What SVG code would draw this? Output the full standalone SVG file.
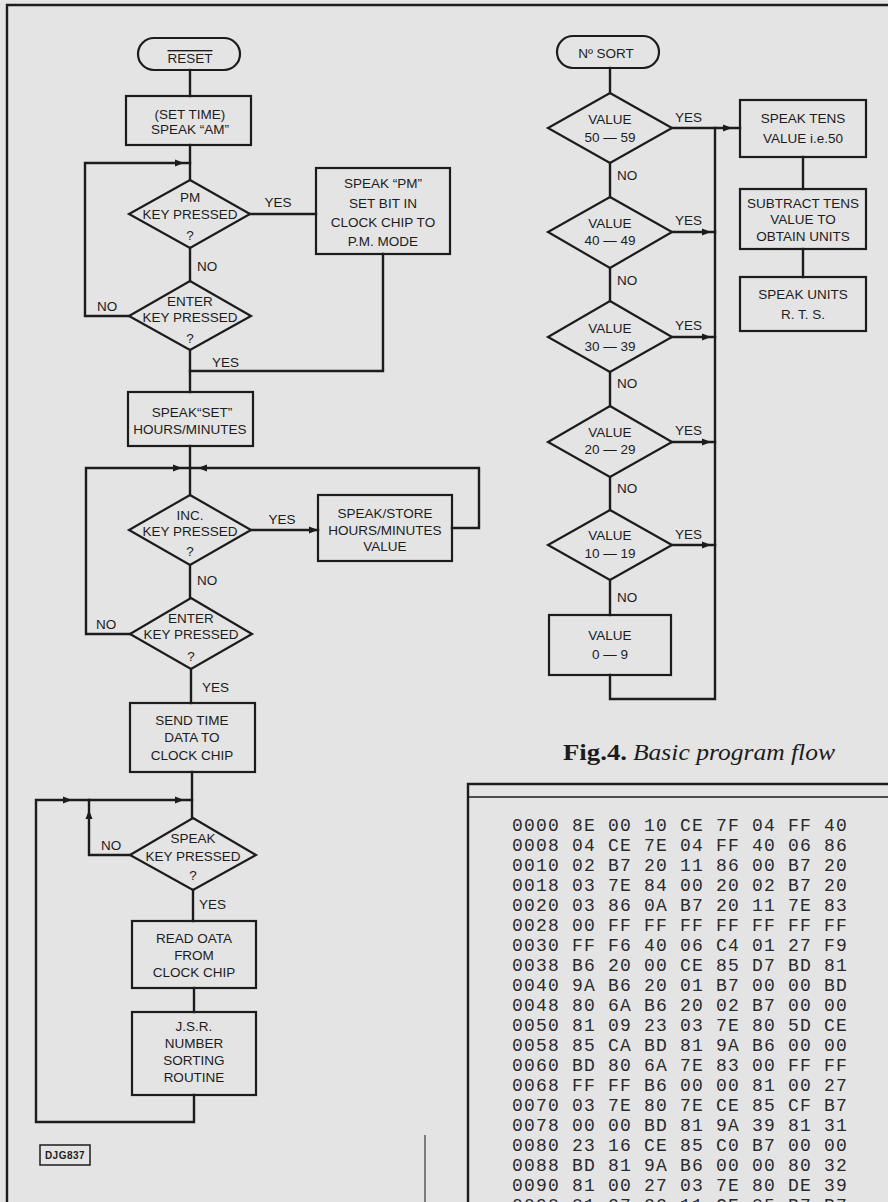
<svg xmlns="http://www.w3.org/2000/svg" xmlns:xlink="http://www.w3.org/1999/xlink" width="888" height="1202" viewBox="0 0 888 1202">
<style>
.ln{fill:none;stroke:#1c1c1c;stroke-width:2.4;stroke-linejoin:miter;stroke-linecap:square}
.bx{fill:none;stroke:#1c1c1c;stroke-width:2.2}
.t{font-family:"Liberation Sans",Arial,sans-serif;font-size:13.5px;fill:#1c1c1c;text-anchor:middle}
.s{font-family:"Liberation Sans",Arial,sans-serif;font-size:13.5px;fill:#1c1c1c;text-anchor:start}
.hex{font-family:"Liberation Mono","Courier New",monospace;font-size:18px;letter-spacing:1.2px;fill:#2a2a2a}
.ah{fill:#1c1c1c}
</style>
<defs>
<path id="ah" class="ah" d="M0,0 L-9,-3.5 L-9,3.5 Z"/>
</defs>
<rect x="0" y="0" width="888" height="1202" fill="#e4e4e4"/>
<g id="frame">
<path class="ln" d="M7,1202 V5 H888"/>
<path class="ln" d="M468,1202 V784 H888"/>
<path d="M468,797 H888" stroke="#1c1c1c" stroke-width="1.6"/>
<path d="M425,1135 V1202" stroke="#3a3a3a" stroke-width="1.2"/>
</g>
<g id="connectors">
<path class="ln" d="M190,70 V96"/>
<path class="ln" d="M190,145 V180"/>
<path class="ln" d="M190,248 V281"/>
<path class="ln" d="M190,350 V392"/>
<path class="ln" d="M250,214 H316"/>
<path class="ln" d="M383,254 V371 H190"/>
<path class="ln" d="M129,316 H85 V163 H190"/>
<use xlink:href="#ah" transform="translate(184,163)"/>
<path class="ln" d="M190,446 V495"/>
<path class="ln" d="M130,634 H86 V468 H190"/>
<use xlink:href="#ah" transform="translate(182,468)"/>
<path class="ln" d="M251,530 H318"/>
<use xlink:href="#ah" transform="translate(318,530)"/>
<path class="ln" d="M452,528 H479 V468 H190"/>
<use xlink:href="#ah" transform="translate(198,468) rotate(180)"/>
<path class="ln" d="M190,565 V598"/>
<path class="ln" d="M191,669 V703"/>
<path class="ln" d="M192,772 V818"/>
<path class="ln" d="M130,855 H89 V800"/>
<use xlink:href="#ah" transform="translate(89,810) rotate(-90)"/>
<path class="ln" d="M193,890 V921"/>
<path class="ln" d="M194,988 V1012"/>
<path class="ln" d="M194,1095 V1122 H36 V800 H192"/>
<use xlink:href="#ah" transform="translate(72,800)"/>
<use xlink:href="#ah" transform="translate(184,800)"/>
<path class="ln" d="M610,68 V93"/>
<path class="ln" d="M610,163 V197"/>
<path class="ln" d="M610,268 V301"/>
<path class="ln" d="M610,372 V406"/>
<path class="ln" d="M610,477 V510"/>
<path class="ln" d="M610,580 V615"/>
<path class="ln" d="M672,128 H740"/>
<use xlink:href="#ah" transform="translate(732,128)"/>
<path class="ln" d="M672,232 H715"/>
<use xlink:href="#ah" transform="translate(711,232)"/>
<path class="ln" d="M672,337 H715"/>
<use xlink:href="#ah" transform="translate(711,337)"/>
<path class="ln" d="M672,442 H715"/>
<use xlink:href="#ah" transform="translate(711,442)"/>
<path class="ln" d="M672,545 H715"/>
<use xlink:href="#ah" transform="translate(711,545)"/>
<path class="ln" d="M610,675 V699 H715 V128"/>
<path class="ln" d="M803,157 V189"/>
<path class="ln" d="M803,249 V277"/>
</g>
<g id="labels">
<text class="t" x="278" y="207">YES</text>
<text class="s" x="197" y="271">NO</text>
<text class="s" x="97" y="311">NO</text>
<text class="s" x="212" y="367">YES</text>
<text class="t" x="282" y="524">YES</text>
<text class="s" x="197" y="585">NO</text>
<text class="s" x="96" y="629">NO</text>
<text class="s" x="202" y="692">YES</text>
<text class="s" x="101" y="850">NO</text>
<text class="s" x="199" y="909">YES</text>
<text class="s" x="675" y="122">YES</text>
<text class="s" x="617" y="180">NO</text>
<text class="s" x="675" y="225">YES</text>
<text class="s" x="617" y="285">NO</text>
<text class="s" x="675" y="330">YES</text>
<text class="s" x="617" y="388">NO</text>
<text class="s" x="675" y="435">YES</text>
<text class="s" x="617" y="493">NO</text>
<text class="s" x="675" y="539">YES</text>
<text class="s" x="617" y="602">NO</text>
</g>
<g id="reset">
<rect class="bx" x="138" y="38" width="102" height="32" rx="16"/>
<text class="t" x="190" y="63" text-decoration="overline">RESET</text>
</g>
<g id="set-time">
<rect class="bx" x="126" y="96" width="125" height="49"/>
<text class="t" x="190" y="119">(SET  TIME)</text>
<text class="t" x="190" y="134">SPEAK “AM”</text>
</g>
<g id="pm-key">
<polygon class="bx" points="190,180 250,214 190,248 129,214"/>
<text class="t" x="190" y="202">PM</text>
<text class="t" x="190" y="219">KEY PRESSED</text>
<text class="t" x="190" y="240">?</text>
</g>
<g id="speak-pm">
<rect class="bx" x="316" y="168" width="134" height="86"/>
<text class="t" x="383" y="188">SPEAK “PM”</text>
<text class="t" x="383" y="208">SET BIT IN</text>
<text class="t" x="383" y="227">CLOCK CHIP TO</text>
<text class="t" x="383" y="246">P.M.  MODE</text>
</g>
<g id="enter-key-1">
<polygon class="bx" points="190,281 251,316 190,350 129,316"/>
<text class="t" x="190" y="306">ENTER</text>
<text class="t" x="190" y="322">KEY PRESSED</text>
<text class="t" x="190" y="343">?</text>
</g>
<g id="speak-set">
<rect class="bx" x="128" y="392" width="125" height="54"/>
<text class="t" x="192" y="417">SPEAK“SET”</text>
<text class="t" x="190" y="434">HOURS/MINUTES</text>
</g>
<g id="inc-key">
<polygon class="bx" points="190,495 251,530 190,565 129,530"/>
<text class="t" x="190" y="520">INC.</text>
<text class="t" x="190" y="536">KEY PRESSED</text>
<text class="t" x="190" y="556">?</text>
</g>
<g id="speak-store">
<rect class="bx" x="318" y="495" width="134" height="66"/>
<text class="t" x="385" y="518">SPEAK/STORE</text>
<text class="t" x="385" y="535">HOURS/MINUTES</text>
<text class="t" x="385" y="551">VALUE</text>
</g>
<g id="enter-key-2">
<polygon class="bx" points="191,598 252,634 191,669 130,634"/>
<text class="t" x="191" y="623">ENTER</text>
<text class="t" x="191" y="639">KEY PRESSED</text>
<text class="t" x="191" y="661">?</text>
</g>
<g id="send-time">
<rect class="bx" x="130" y="703" width="125" height="69"/>
<text class="t" x="192" y="725">SEND TIME</text>
<text class="t" x="192" y="742">DATA TO</text>
<text class="t" x="192" y="760">CLOCK CHIP</text>
</g>
<g id="speak-key">
<polygon class="bx" points="193,818 256,855 193,890 130,855"/>
<text class="t" x="193" y="843">SPEAK</text>
<text class="t" x="193" y="861">KEY PRESSED</text>
<text class="t" x="193" y="880">?</text>
</g>
<g id="read-data">
<rect class="bx" x="132" y="921" width="124" height="67"/>
<text class="t" x="194" y="943">READ OATA</text>
<text class="t" x="194" y="960">FROM</text>
<text class="t" x="194" y="977">CLOCK CHIP</text>
</g>
<g id="jsr">
<rect class="bx" x="132" y="1012" width="124" height="83"/>
<text class="t" x="194" y="1031">J.S.R.</text>
<text class="t" x="194" y="1048">NUMBER</text>
<text class="t" x="194" y="1065">SORTING</text>
<text class="t" x="194" y="1082">ROUTINE</text>
</g>
<g id="djg837">
<rect x="40" y="1145" width="50" height="20" fill="none" stroke="#1c1c1c" stroke-width="1.5"/>
<text x="65" y="1159" font-family="Liberation Sans,Arial,sans-serif" font-size="10px" font-weight="bold" letter-spacing="0.5" fill="#1c1c1c" text-anchor="middle">DJG837</text>
</g>
<g id="no-sort">
<rect class="bx" x="557" y="36" width="102" height="32" rx="16"/>
<text class="t" x="606" y="58">Nº  SORT</text>
</g>
<g id="value-50-59">
<polygon class="bx" points="610,93 672,128 610,163 548,128"/>
<text class="t" x="610" y="124">VALUE</text>
<text class="t" x="610" y="142">50 — 59</text>
</g>
<g id="value-40-49">
<polygon class="bx" points="610,197 672,232 610,268 548,232"/>
<text class="t" x="610" y="228">VALUE</text>
<text class="t" x="610" y="245">40 — 49</text>
</g>
<g id="value-30-39">
<polygon class="bx" points="610,301 672,337 610,372 548,337"/>
<text class="t" x="610" y="333">VALUE</text>
<text class="t" x="610" y="351">30 — 39</text>
</g>
<g id="value-20-29">
<polygon class="bx" points="610,406 672,442 610,477 548,442"/>
<text class="t" x="610" y="437">VALUE</text>
<text class="t" x="610" y="454">20 — 29</text>
</g>
<g id="value-10-19">
<polygon class="bx" points="610,510 672,545 610,580 548,545"/>
<text class="t" x="610" y="540">VALUE</text>
<text class="t" x="610" y="558">10 — 19</text>
</g>
<g id="value-0-9">
<rect class="bx" x="549" y="615" width="122" height="60"/>
<text class="t" x="610" y="640">VALUE</text>
<text class="t" x="610" y="659">0 — 9</text>
</g>
<g id="speak-tens">
<rect class="bx" x="740" y="100" width="126" height="57"/>
<text class="t" x="803" y="123">SPEAK TENS</text>
<text class="t" x="803" y="143">VALUE i.e.50</text>
</g>
<g id="subtract-tens">
<rect class="bx" x="740" y="189" width="126" height="60"/>
<text class="t" x="803" y="208">SUBTRACT TENS</text>
<text class="t" x="803" y="224">VALUE  TO</text>
<text class="t" x="803" y="241">OBTAIN UNITS</text>
</g>
<g id="speak-units">
<rect class="bx" x="740" y="277" width="126" height="54"/>
<text class="t" x="803" y="299">SPEAK UNITS</text>
<text class="t" x="803" y="319">R. T. S.</text>
</g>
<g id="caption">
<text x="563" y="760" font-family="Liberation Serif,'Times New Roman',serif" font-size="24px" font-weight="bold" fill="#1c1c1c" textLength="64" lengthAdjust="spacingAndGlyphs">Fig.4.</text>
<text x="633" y="760" font-family="Liberation Serif,'Times New Roman',serif" font-size="24px" font-style="italic" fill="#1c1c1c" textLength="202" lengthAdjust="spacingAndGlyphs">Basic program flow</text>
</g>
<g id="hex-dump">
<text class="hex" x="512" y="831">0000 8E 00 10 CE 7F 04 FF 40</text>
<text class="hex" x="512" y="851">0008 04 CE 7E 04 FF 40 06 86</text>
<text class="hex" x="512" y="871">0010 02 B7 20 11 86 00 B7 20</text>
<text class="hex" x="512" y="891">0018 03 7E 84 00 20 02 B7 20</text>
<text class="hex" x="512" y="911">0020 03 86 0A B7 20 11 7E 83</text>
<text class="hex" x="512" y="931">0028 00 FF FF FF FF FF FF FF</text>
<text class="hex" x="512" y="951">0030 FF F6 40 06 C4 01 27 F9</text>
<text class="hex" x="512" y="971">0038 B6 20 00 CE 85 D7 BD 81</text>
<text class="hex" x="512" y="991">0040 9A B6 20 01 B7 00 00 BD</text>
<text class="hex" x="512" y="1011">0048 80 6A B6 20 02 B7 00 00</text>
<text class="hex" x="512" y="1031">0050 81 09 23 03 7E 80 5D CE</text>
<text class="hex" x="512" y="1051">0058 85 CA BD 81 9A B6 00 00</text>
<text class="hex" x="512" y="1071">0060 BD 80 6A 7E 83 00 FF FF</text>
<text class="hex" x="512" y="1091">0068 FF FF B6 00 00 81 00 27</text>
<text class="hex" x="512" y="1111">0070 03 7E 80 7E CE 85 CF B7</text>
<text class="hex" x="512" y="1131">0078 00 00 BD 81 9A 39 81 31</text>
<text class="hex" x="512" y="1151">0080 23 16 CE 85 C0 B7 00 00</text>
<text class="hex" x="512" y="1171">0088 BD 81 9A B6 00 00 80 32</text>
<text class="hex" x="512" y="1191">0090 81 00 27 03 7E 80 DE 39</text>
<text class="hex" x="512" y="1211">0098 81 27 22 11 CE 85 B7 B7</text>
</g>
</svg>
